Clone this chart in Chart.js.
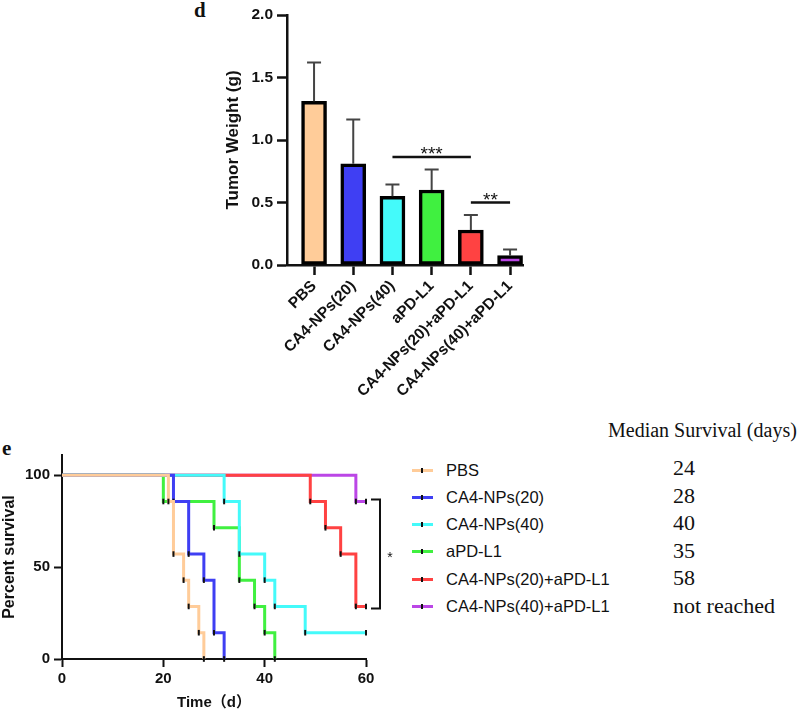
<!DOCTYPE html>
<html>
<head>
<meta charset="utf-8">
<script src="https://cdn.jsdelivr.net/npm/chart.js@4.4.1/dist/chart.umd.min.js"></script>
<style>
  body { margin: 0; background: #fff; }
  #page { position: relative; width: 797px; height: 713px; overflow: hidden; font-family: "Liberation Sans", Arial, sans-serif; color: #111; }
  canvas { position: absolute; }
  .panel { position: absolute; font: bold 21px/20px "Liberation Serif", "Times New Roman", serif; }
  .legend-row { position: absolute; left: 412px; height: 20px; display: flex; align-items: center; font-size: 16.5px; white-space: nowrap; }
  .swatch { position: relative; width: 21px; height: 3px; margin-right: 13px; }
  .swatch i { position: absolute; left: 9px; top: -1px; width: 2px; height: 5px; background: #111; }
  .median { position: absolute; left: 673px; font: 22px/24px "Liberation Serif", "Times New Roman", serif; white-space: nowrap; }
  #medianTitle { position: absolute; left: 608px; top: 418px; font: 20px/24px "Liberation Serif", "Times New Roman", serif; white-space: nowrap; }
</style>
</head>
<body>
<div id="page">
  <div class="panel" style="left:194px; top:0px;">d</div>
  <div class="panel" style="left:2px; top:438px;">e</div>
  <canvas id="weightChart" width="540" height="440" style="left:0; top:0;"></canvas>
  <canvas id="survivalChart" width="400" height="273" style="left:0; top:440px;"></canvas>
  <div id="medianTitle">Median Survival (days)</div>
  <div id="legend"></div>
</div>
<script>
// Groups and colours
const groups = ['PBS', 'CA4-NPs(20)', 'CA4-NPs(40)', 'aPD-L1', 'CA4-NPs(20)+aPD-L1', 'CA4-NPs(40)+aPD-L1'];
const groupColors = ['#FFCC99', '#3F3FF3', '#44FAFA', '#40F040', '#FF4242', '#BB46E6'];

// Panel d: tumor weight (g), mean and SD
const weightMean = [1.31, 0.81, 0.55, 0.60, 0.28, 0.075];
const weightSD = [0.31, 0.355, 0.095, 0.165, 0.12, 0.05];
const weightTicks = [0, 0.5, 1.0, 1.5, 2.0];
// significance brackets: [from group, to group, height, label]
const sigFrom = [2, 4];
const sigTo = [4, 5];
const sigLevel = [0.865, 0.50];
const sigLabel = ['***', '**'];

// Panel e: Kaplan-Meier steps (day, percent survival)
const pbsDays = [0, 21, 22, 24, 25, 27, 28];
const pbsSurv = [100, 85.7, 57.1, 42.9, 28.6, 14.3, 0];
const np20Days = [0, 22, 25, 28, 30, 32];
const np20Surv = [100, 85.7, 57.1, 42.9, 14.3, 0];
const np40Days = [0, 32, 35, 40, 42, 48, 60];
const np40Surv = [100, 85.7, 57.1, 42.9, 28.6, 14.3, 14.3];
const apdDays = [0, 20, 30, 35, 38, 40, 42];
const apdSurv = [100, 85.7, 71.4, 42.9, 28.6, 14.3, 0];
const combo20Days = [0, 49, 52, 55, 58, 60];
const combo20Surv = [100, 85.7, 71.4, 57.1, 28.6, 28.6];
const combo40Days = [0, 58, 60];
const combo40Surv = [100, 85.7, 85.7];
const survDays = [pbsDays, np20Days, np40Days, apdDays, combo20Days, combo40Days];
const survValues = [pbsSurv, np20Surv, np40Surv, apdSurv, combo20Surv, combo40Surv];
const medianSurvival = ['24', '28', '40', '35', '58', 'not reached'];
const timeTicks = [0, 20, 40, 60];
const survTicks = [0, 50, 100];

const FONT = '"Liberation Sans", Arial, "Noto Sans CJK SC", sans-serif';
Chart.defaults.font.family = FONT;
Chart.defaults.color = '#111';

// Error bars (upper only)
const errorBars = {
    id: 'errorBars',
    afterDatasetsDraw(chart) {
        const { ctx, scales: { x, y } } = chart;
        ctx.save();
        ctx.strokeStyle = '#444';
        ctx.lineWidth = 2;
        weightMean.forEach((m, i) => {
            const px = x.getPixelForValue(i);
            const base = y.getPixelForValue(m);
            const top = y.getPixelForValue(m + weightSD[i]);
            ctx.beginPath();
            ctx.moveTo(px, base);
            ctx.lineTo(px, top);
            ctx.moveTo(px - 7, top);
            ctx.lineTo(px + 7, top);
            ctx.stroke();
        });
        ctx.restore();
    }
};

// Significance lines with stars
const sigMarks = {
    id: 'sigMarks',
    afterDraw(chart) {
        const { ctx, scales: { x, y } } = chart;
        ctx.save();
        ctx.strokeStyle = '#111';
        ctx.fillStyle = '#111';
        ctx.lineWidth = 2.5;
        ctx.font = '19px ' + FONT;
        ctx.textAlign = 'center';
        ctx.textBaseline = 'alphabetic';
        sigLevel.forEach((lvl, k) => {
            const x1 = x.getPixelForValue(sigFrom[k]);
            const x2 = x.getPixelForValue(sigTo[k]);
            const py = y.getPixelForValue(lvl);
            ctx.beginPath();
            ctx.moveTo(x1, py);
            ctx.lineTo(x2, py);
            ctx.stroke();
            ctx.fillText(sigLabel[k], (x1 + x2) / 2, py + 3);
        });
        ctx.restore();
    }
};

new Chart(document.getElementById('weightChart'), {
    type: 'bar',
    data: {
        datasets: [{
            data: weightMean.map((v, i) => ({ x: i, y: v })),
            backgroundColor: groupColors,
            borderColor: '#000',
            borderWidth: 3.5,
            borderSkipped: false,
            barThickness: 25
        }]
    },
    options: {
        responsive: false,
        animation: false,
        events: [],
        layout: { padding: { left: 219, top: 15, right: 17, bottom: 0 } },
        plugins: { legend: { display: false }, tooltip: { enabled: false } },
        scales: {
            x: {
                type: 'linear',
                min: -0.69,
                max: 5.33,
                offset: false,
                afterBuildTicks: s => { s.ticks = groups.map((g, i) => ({ value: i })); },
                afterFit: s => { s.height = 175; },
                border: { display: true, color: '#111', width: 2.5 },
                grid: { display: true, offset: false, drawOnChartArea: false, tickLength: 10, tickWidth: 2.5, tickColor: '#111' },
                ticks: {
                    autoSkip: false,
                    minRotation: 45,
                    maxRotation: 45,
                    padding: 2,
                    color: '#111',
                    font: { size: 15.5, weight: 'bold' },
                    callback: v => groups[v]
                }
            },
            y: {
                min: 0,
                max: 2,
                afterBuildTicks: s => { s.ticks = weightTicks.map(v => ({ value: v })); },
                afterFit: s => { s.width = 68; },
                border: { display: true, color: '#111', width: 2.5 },
                grid: { display: true, drawOnChartArea: false, tickLength: 10, tickWidth: 2.5, tickColor: '#111' },
                ticks: {
                    padding: 4,
                    color: '#111',
                    font: { size: 15.5, weight: 'bold' },
                    callback: v => v.toFixed(1)
                },
                title: {
                    display: true,
                    text: 'Tumor Weight (g)',
                    color: '#111',
                    padding: { top: 4, bottom: 0 },
                    font: { size: 17, weight: 'bold' }
                }
            }
        }
    },
    plugins: [errorBars, sigMarks]
});

// Bracket with star between the two combination groups
const survBracket = {
    id: 'survBracket',
    afterDraw(chart) {
        const { ctx, scales: { x, y } } = chart;
        const xEnd = x.getPixelForValue(60);
        const yTop = y.getPixelForValue(combo40Surv[combo40Surv.length - 1]) - 2;
        const yBot = y.getPixelForValue(combo20Surv[combo20Surv.length - 1]) + 2;
        ctx.save();
        ctx.strokeStyle = '#111';
        ctx.lineWidth = 2;
        ctx.beginPath();
        ctx.moveTo(xEnd + 5, yTop);
        ctx.lineTo(xEnd + 14, yTop);
        ctx.lineTo(xEnd + 14, yBot);
        ctx.lineTo(xEnd + 5, yBot);
        ctx.stroke();
        ctx.fillStyle = '#111';
        ctx.font = '14px ' + FONT;
        ctx.textAlign = 'center';
        ctx.fillText('*', xEnd + 24, (yTop + yBot) / 2 + 8);
        ctx.restore();
    }
};

new Chart(document.getElementById('survivalChart'), {
    type: 'line',
    data: {
        datasets: groups.map((g, i) => ({
            label: g,
            data: survDays[i].map((d, k) => ({ x: d, y: survValues[i][k] })),
            stepped: 'before',
            borderColor: groupColors[i],
            borderWidth: 3,
            fill: false,
            clip: 6,
            pointStyle: 'line',
            rotation: 90,
            pointRadius: ctx => (ctx.dataIndex === 0 ? 0 : 2.8),
            pointBorderColor: '#111',
            pointBorderWidth: 2
        }))
    },
    options: {
        responsive: false,
        animation: false,
        events: [],
        layout: { padding: { left: 0, top: 15, right: 34, bottom: 0 } },
        plugins: { legend: { display: false }, tooltip: { enabled: false } },
        scales: {
            x: {
                type: 'linear',
                min: 0,
                max: 60,
                afterBuildTicks: s => { s.ticks = timeTicks.map(v => ({ value: v })); },
                afterFit: s => { s.height = 54; },
                border: { display: true, color: '#111', width: 2 },
                grid: { display: true, drawOnChartArea: false, tickLength: 8, tickWidth: 2, tickColor: '#111' },
                ticks: { padding: 3, color: '#111', font: { size: 15, weight: 'bold' } },
                title: {
                    display: true,
                    text: 'Time（d）',
                    color: '#111',
                    padding: { top: 0, bottom: 1 },
                    font: { size: 15, weight: 'bold' }
                }
            },
            y: {
                min: 0,
                max: 111,
                afterBuildTicks: s => { s.ticks = survTicks.map(v => ({ value: v })); },
                afterFit: s => { s.width = 62; },
                border: { display: true, color: '#111', width: 2 },
                grid: { display: true, drawOnChartArea: false, tickLength: 8, tickWidth: 2, tickColor: '#111' },
                ticks: { padding: 4, color: '#111', font: { size: 15, weight: 'bold' } },
                title: {
                    display: true,
                    text: 'Percent survival',
                    color: '#111',
                    padding: { top: 0, bottom: 0 },
                    font: { size: 16, weight: 'bold' }
                }
            }
        }
    },
    plugins: [survBracket]
});

// Legend and median survival column
const legend = document.getElementById('legend');
groups.forEach((g, i) => {
    const row = document.createElement('div');
    row.className = 'legend-row';
    row.style.top = (460 + i * 27.3) + 'px';
    row.innerHTML = '<span class="swatch" style="background:' + groupColors[i] + '"><i></i></span><span>' + g + '</span>';
    legend.appendChild(row);

    const med = document.createElement('div');
    med.className = 'median';
    med.style.top = (456 + i * 27.5) + 'px';
    med.textContent = medianSurvival[i];
    legend.appendChild(med);
});
</script>
</body>
</html>
